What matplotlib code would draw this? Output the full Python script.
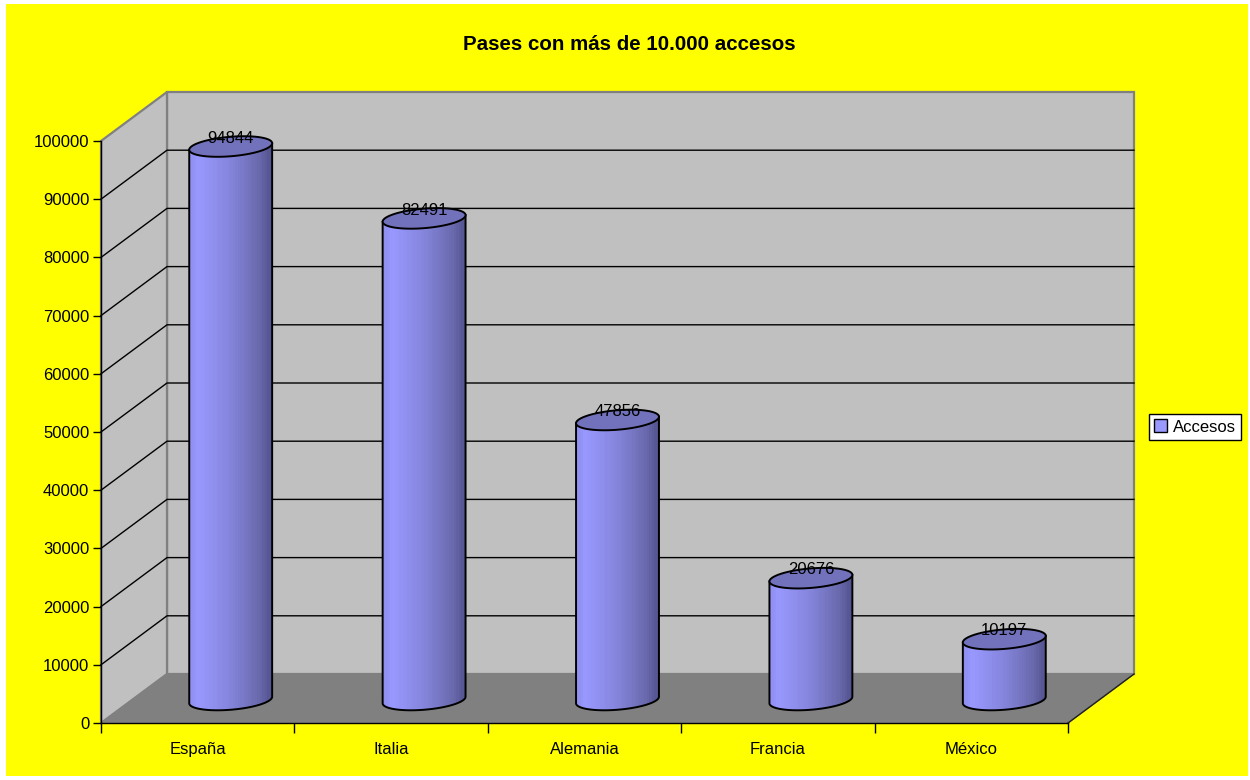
import numpy as np
import matplotlib
matplotlib.use("Agg")
import matplotlib.pyplot as plt
from matplotlib.colors import LinearSegmentedColormap
from matplotlib.patches import Patch, Polygon, Rectangle

plt.rcParams["font.family"] = ["Liberation Sans", "DejaVu Sans"]

paises = ["España", "Italia", "Alemania", "Francia", "México"]
accesos = [94844, 82491, 47856, 20676, 10197]
y_ticks = list(range(0, 100001, 10000))
titulo = "Pases con más de 10.000 accesos"
serie = "Accesos"

W, H = 1250, 780
# frente del eje en pixeles
L, R, T, B = 101, 1068, 141, 723

fig = plt.figure(figsize=(W / 100, H / 100), dpi=100, facecolor="white")
fig.add_artist(Rectangle((6 / W, 1 - 776 / H), 1242 / W, 772 / H, zorder=-1,
                         transform=fig.transFigure, facecolor="#FFFF00", edgecolor="none"))
ax = fig.add_axes([L / W, 1 - B / H, (R - L) / W, (B - T) / H])
ax.patch.set_visible(False)
ax.set_xlim(0, 5)
ax.set_ylim(0, 100000)

# profundidad del efecto 3D en unidades de datos
px_x = (R - L) / 5
px_y = (B - T) / 100000
dx = 66 / px_x
dy = 49 / px_y


def poly(pts, **kw):
    ax.add_patch(Polygon(pts, closed=True, clip_on=False, **kw))


# paredes y suelo
poly([(dx, dy), (5 + dx, dy), (5 + dx, 100000 + dy), (dx, 100000 + dy)],
     facecolor="#C0C0C0", edgecolor="#808080", lw=1.6, zorder=1)
poly([(0, 0), (dx, dy), (dx, 100000 + dy), (0, 100000)],
     facecolor="#C0C0C0", edgecolor="#808080", lw=1.6, zorder=1)
poly([(0, 0), (5, 0), (5 + dx, dy), (dx, dy)],
     facecolor="#808080", edgecolor="#808080", lw=1, zorder=1.5)
ax.plot([5, 5 + dx], [0, dy], color="#202020", lw=1, clip_on=False, zorder=1.6)

for v in y_ticks[1:-1]:
    ax.plot([0, dx, 5 + dx], [v, v + dy, v + dy], color="black", lw=1,
            clip_on=False, zorder=2)

# cilindros
grad = LinearSegmentedColormap.from_list(
    "cil", [(0, "#8E8EF0"), (0.1, "#9999FF"), (0.5, "#8585DC"), (0.85, "#6A6AAE"), (1, "#535390")])
franjas = np.linspace(0, 1, 34)[None, :]
ux = 39.3 / px_x
dxh = 0.2 * dx
dyh = 0.21 * dy
t0 = np.arctan2(dxh, ux)
half = np.hypot(ux, dxh)


def elipse(cx, cy, t):
    return np.column_stack([cx + ux * np.cos(t) + dxh * np.sin(t), cy + dyh * np.sin(t)])


for i, val in enumerate(accesos):
    cx = i + 0.5 + dx / 2
    base = dy / 2 - 1.5 / px_y
    top = val + dy / 2
    abajo = elipse(cx, base, np.linspace(t0 + np.pi, t0 + 2 * np.pi, 80))
    arriba = elipse(cx, top, np.linspace(t0, t0 + 2 * np.pi, 160))
    izq_top = elipse(cx, top, np.array([t0 + np.pi]))
    der_top = elipse(cx, top, np.array([t0]))
    silueta = np.vstack([izq_top, abajo, der_top])
    cuerpo = Polygon(silueta, closed=True, facecolor="none", edgecolor="black", lw=1.4,
                     clip_on=False, zorder=4)
    ax.add_patch(cuerpo)
    im = ax.imshow(franjas, cmap=grad, vmin=0, vmax=1, aspect="auto", interpolation="nearest",
                   extent=(cx - half, cx + half, base - dyh, top + dyh), zorder=3)
    im.set_clip_path(cuerpo)
    poly(arriba, facecolor="#7272BC", edgecolor="black", lw=1.4, zorder=5)
    ax.annotate(str(val), (cx, top), xytext=(0, 6), textcoords="offset points",
                ha="center", va="center", fontsize=12, color="black", zorder=6,
                annotation_clip=False)
ax.set_xlim(0, 5)
ax.set_ylim(0, 100000)

# ejes
for s in ["top", "right"]:
    ax.spines[s].set_visible(False)
for s in ["left", "bottom"]:
    ax.spines[s].set_linewidth(1)
    ax.spines[s].set_zorder(2.5)
ax.set_yticks(y_ticks)
ax.set_xticks(np.arange(5) + 0.5)
ax.set_xticklabels(paises)
ax.set_xticks(np.arange(6), minor=True)
ax.tick_params(axis="y", length=6, width=1, pad=2.5, labelsize=12)
ax.tick_params(axis="x", which="major", length=0, pad=13.5, labelsize=12)
ax.tick_params(axis="x", which="minor", length=7, width=1)

fig.text(629.5 / W, 1 - 45 / H, titulo, ha="center", va="center", fontsize=14.8, fontweight="bold")

fig.legend(handles=[Patch(facecolor="#9999FF", edgecolor="black", lw=1, label=serie)],
           loc="center left", bbox_to_anchor=(1149 / W, 1 - 427 / H), fontsize=12,
           fancybox=False, framealpha=1, facecolor="white", edgecolor="black",
           handlelength=0.8, handleheight=0.8, handletextpad=0.35, borderpad=0.3,
           borderaxespad=0)

fig.savefig("out.png", dpi=100)
